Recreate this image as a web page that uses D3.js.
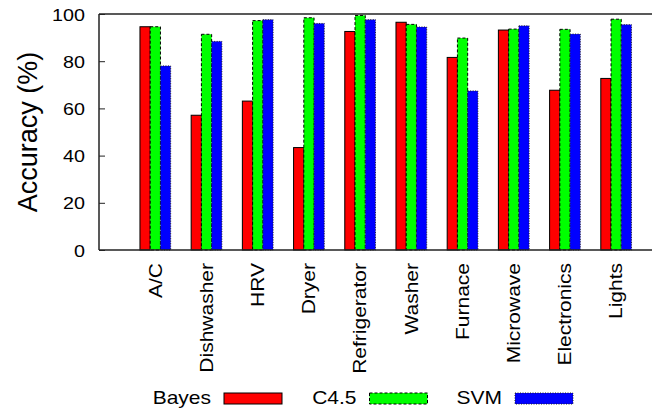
<!DOCTYPE html>
<html>
<head>
<meta charset="utf-8">
<script src="https://cdn.jsdelivr.net/npm/d3@7"></script>
<style>
  body { margin: 0; background: #fff; }
  text { font-family: "Liberation Sans", Arial, sans-serif; fill: #000; }
</style>
</head>
<body>
<script>
// Data
const categories = ['A/C', 'Dishwasher', 'HRV', 'Dryer', 'Refrigerator', 'Washer', 'Furnace', 'Microwave', 'Electronics', 'Lights'];
const bayes = [94.6, 57.1, 63.1, 43.4, 92.6, 96.5, 81.6, 93.2, 67.7, 72.7];
const c45 = [94.6, 91.4, 97.2, 98.4, 99.4, 95.6, 89.8, 93.6, 93.5, 97.8];
const svm = [78.0, 88.4, 97.6, 96.0, 97.6, 94.5, 67.4, 95.0, 91.5, 95.5];
const seriesNames = ['Bayes', 'C4.5', 'SVM'];
const yTicks = [0, 20, 40, 60, 80, 100];

const width = 652;
const height = 413;
const plot = {left: 99, right: 652, top: 14, bottom: 250};

// horizontal stretch of the small text, as in the source picture
const stretch = 1.2;

const svg = d3.select('body')
.append('svg')
.attr('width', width)
.attr('height', height);

const x = d3.scaleLinear()
.domain([-1.1, 9.7])
.range([plot.left, plot.right]);

const y = d3.scaleLinear()
.domain([0, 100])
.range([plot.bottom, plot.top]);

const barW = x(0.2) - x(0);

const series = [
    {name: seriesNames[0], values: bayes, fill: '#ff0000', stroke: '#000', dash: null, offset: -0.3},
    {name: seriesNames[1], values: c45, fill: '#00ff00', stroke: '#000', dash: '3,2', offset: -0.1},
    {name: seriesNames[2], values: svm, fill: '#0000ff', stroke: '#222', dash: '1,1.5', offset: 0.1}
];

// Bars
series.forEach(s => {
    svg.append('g')
    .selectAll('rect')
    .data(s.values)
    .enter()
    .append('rect')
    .attr('x', (d, i) => x(i + s.offset))
    .attr('y', d => y(d))
    .attr('width', barW)
    .attr('height', d => y(0) - y(d))
    .attr('fill', s.fill)
    .attr('stroke', s.stroke)
    .attr('stroke-width', 1)
    .attr('stroke-dasharray', s.dash);
});

// Frame: left, top and bottom (right edge is off the picture)
const frame = svg.append('g')
.attr('stroke', '#222')
.attr('stroke-width', 1.5)
.attr('fill', 'none');
frame.append('line').attr('x1', plot.left).attr('x2', plot.right).attr('y1', plot.top).attr('y2', plot.top);
frame.append('line').attr('x1', plot.left).attr('x2', plot.right).attr('y1', plot.bottom).attr('y2', plot.bottom);
frame.append('line').attr('x1', plot.left).attr('x2', plot.left).attr('y1', plot.top).attr('y2', plot.bottom);

// Y axis ticks (inward)
const yAxis = d3.axisLeft(y)
.tickValues(yTicks)
.tickSizeInner(-6)
.tickSizeOuter(0)
.tickPadding(14);

const yg = svg.append('g')
.attr('transform', `translate(${plot.left},0)`)
.call(yAxis);
yg.select('.domain').remove();
yg.selectAll('.tick line').attr('stroke', '#222').attr('stroke-width', 1);
yg.selectAll('.tick text')
.attr('font-family', '"Liberation Sans", Arial, sans-serif')
.attr('font-size', 17)
.attr('fill', '#000')
.attr('x', null)
.attr('dy', null)
.attr('transform', `translate(-14,0) scale(1.16,1)`)
.attr('dominant-baseline', 'central');

// Y label
svg.append('text')
.attr('transform', `translate(37,132) rotate(-90)`)
.attr('text-anchor', 'middle')
.attr('font-size', 27)
.text('Accuracy (%)');

// Category labels
svg.append('g')
.selectAll('text')
.data(categories)
.enter()
.append('text')
.attr('transform', (d, i) => `translate(${x(i)},${plot.bottom + 13}) rotate(-90) scale(${stretch},1)`)
.attr('text-anchor', 'end')
.attr('dy', '0.36em')
.attr('font-size', 17.5)
.text(d => d);

// Legend
const legend = svg.append('g')
.selectAll('g')
.data(series)
.enter()
.append('g')
.attr('transform', (d, i) => `translate(${224 + i * 145.5},393)`);

legend.append('rect')
.attr('width', 58)
.attr('height', 11)
.attr('fill', d => d.fill)
.attr('stroke', d => d.stroke)
.attr('stroke-width', 1)
.attr('stroke-dasharray', d => d.dash);

legend.append('text')
.attr('transform', `translate(-13,5.5) scale(${stretch},1)`)
.attr('text-anchor', 'end')
.attr('dominant-baseline', 'central')
.attr('font-size', 17.5)
.text(d => d.name);
</script>
</body>
</html>
